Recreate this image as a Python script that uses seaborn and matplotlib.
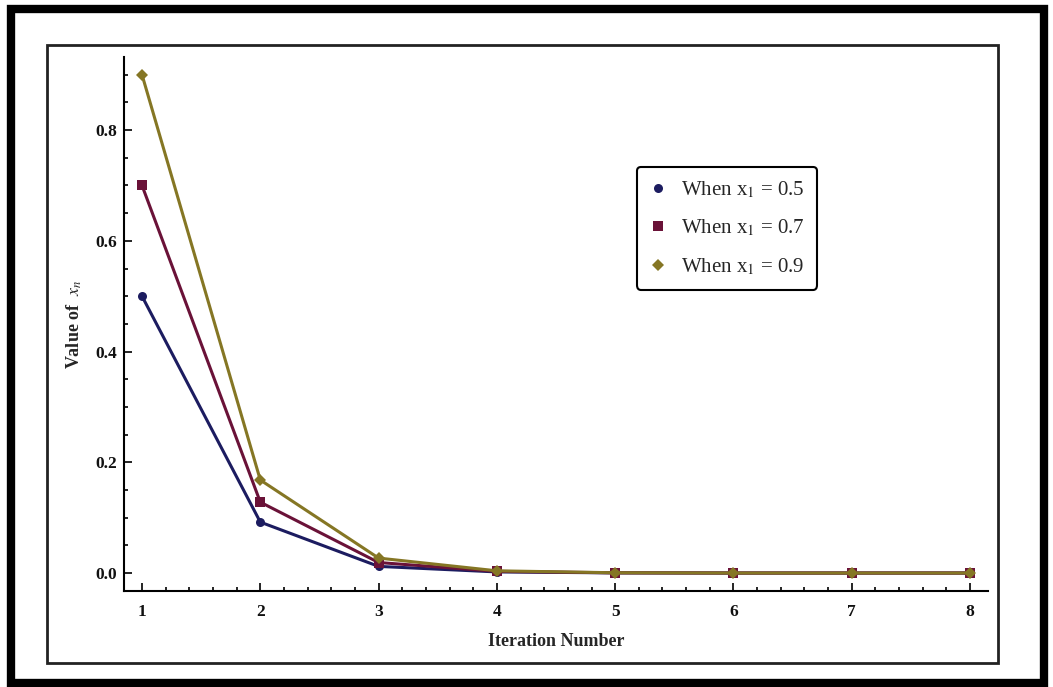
import numpy as np
import pandas as pd
import matplotlib
matplotlib.use("Agg")
import matplotlib.pyplot as plt
import seaborn as sns
from matplotlib.lines import Line2D
from matplotlib.patches import Rectangle
from matplotlib.ticker import MultipleLocator

sns.set_theme(style="white")
plt.rcParams['font.family'] = ['Liberation Serif', 'DejaVu Serif']
plt.rcParams['mathtext.fontset'] = 'stix'

# values
iterations = [1, 2, 3, 4, 5, 6, 7, 8]
x_05 = [0.5, 0.092, 0.012, 0.002, 0.0003, 0.0, 0.0, 0.0]
x_07 = [0.7, 0.128, 0.019, 0.003, 0.0004, 0.0, 0.0, 0.0]
x_09 = [0.9, 0.168, 0.027, 0.004, 0.0005, 0.0, 0.0, 0.0]
labels = ['When x$_1$ = 0.5', 'When x$_1$ = 0.7', 'When x$_1$ = 0.9']
colors = ['#1c1c60', '#6a1238', '#857624']
markers = ['o', 's', 'D']

df = pd.DataFrame({
    'iter': iterations * 3,
    'value': x_05 + x_07 + x_09,
    'series': [labels[0]] * 8 + [labels[1]] * 8 + [labels[2]] * 8,
})

fig = plt.figure(figsize=(10.53, 6.87), dpi=100)
ax = fig.add_axes([0.1178, 0.1397, 0.8205, 0.7773])

sns.lineplot(data=df, x='iter', y='value', hue='series', style='series',
             palette=colors, markers=markers, dashes=False, markersize=6.5,
             markeredgewidth=0, linewidth=2.2, legend=False, ax=ax)

ax.set_xlim(0.848, 8.152)
ax.set_ylim(-0.0325, 0.932)
ax.set_xticks(iterations)
ax.set_yticks([0.0, 0.2, 0.4, 0.6, 0.8])
ax.set_yticklabels(['0.0', '0.2', '0.4', '0.6', '0.8'])
ax.xaxis.set_minor_locator(MultipleLocator(0.2))
ax.yaxis.set_minor_locator(MultipleLocator(0.05))
ax.tick_params(which='both', direction='in', color='black', width=1.2,
               bottom=True, left=True, labelsize=12.5, labelcolor='#111111')
ax.tick_params(which='major', length=6)
ax.tick_params(which='minor', length=3)
ax.tick_params(axis='x', pad=9)
ax.tick_params(axis='y', pad=5)
for lab in ax.get_xticklabels() + ax.get_yticklabels():
    lab.set_fontweight('bold')

for s in ['top', 'right']:
    ax.spines[s].set_visible(False)
for s in ['left', 'bottom']:
    ax.spines[s].set_color('black')
    ax.spines[s].set_linewidth(1.5)

ax.set_xlabel('Iteration Number', fontsize=13, fontweight='bold', labelpad=10)
ax.set_ylabel(r'Value of  $x_n$', fontsize=13, fontweight='bold', labelpad=8)

handles = [Line2D([], [], linestyle='none', marker=m, color=c, markersize=6.5,
                  markeredgewidth=0) for m, c in zip(markers, colors)]
leg = ax.legend(handles, labels, loc='upper left', bbox_to_anchor=(0.594, 0.794),
                borderaxespad=0, fontsize=15, frameon=True, fancybox=True,
                handlelength=0.8, handletextpad=0.7, borderpad=0.6,
                labelspacing=0.85)
leg.get_frame().set_edgecolor('black')
leg.get_frame().set_linewidth(1.5)
leg.get_frame().set_alpha(1)

# inner frame and outer thick border
fig.patches.append(Rectangle((47 / 1053, 1 - 663 / 687), 951 / 1053, 618 / 687,
                             transform=fig.transFigure, fill=False,
                             edgecolor='#222222', linewidth=2))
fig.patches.append(Rectangle((11 / 1053, 1 - 683 / 687), 1033 / 1053, 674 / 687,
                             transform=fig.transFigure, fill=False,
                             edgecolor='black', linewidth=6))

fig.savefig('out.png', dpi=100)
